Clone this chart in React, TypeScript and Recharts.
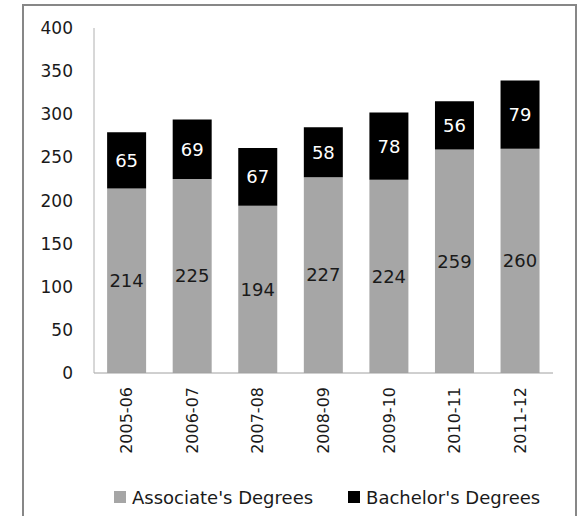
import { Bar, BarChart, LabelList, Legend, XAxis, YAxis } from "recharts";

const YEARS = ["2005-06", "2006-07", "2007-08", "2008-09", "2009-10", "2010-11", "2011-12"];
const ASSOCIATE = [214, 225, 194, 227, 224, 259, 260];
const BACHELOR = [65, 69, 67, 58, 78, 56, 79];
const Y_TICKS = [0, 50, 100, 150, 200, 250, 300, 350, 400];

const COLOR_ASSOC = "#a6a6a6";
const COLOR_BACH = "#000000";
const FONT = "'DejaVu Sans', sans-serif";
const TEXT = "#1a1a1a";

const data = YEARS.map((year, i) => ({
  year,
  associate: ASSOCIATE[i],
  bachelor: BACHELOR[i],
}));

function YearTick({ x, y, payload }: any) {
  return (
    <g transform={`translate(${x},${y + 14})`}>
      <text
        transform="rotate(-90)"
        textAnchor="end"
        dominantBaseline="central"
        fontSize={16}
        fontFamily={FONT}
        fill={TEXT}
      >
        {payload.value}
      </text>
    </g>
  );
}

function DegreesLegend({ payload }: any) {
  return (
    <div
      style={{
        display: "flex",
        alignItems: "center",
        height: 26,
        paddingLeft: 114,
        fontFamily: FONT,
        fontSize: 18,
        color: TEXT,
      }}
    >
      {(payload || []).map((entry: any, i: number) => (
        <div
          key={entry.value}
          style={{ display: "flex", alignItems: "center", marginRight: i === 0 ? 35 : 0 }}
        >
          <span
            style={{
              display: "inline-block",
              width: 12,
              height: 12,
              background: entry.color,
              marginRight: 6,
            }}
          />
          <span>{entry.value}</span>
        </div>
      ))}
    </div>
  );
}

export default function App() {
  return (
    <div
      style={{
        position: "absolute",
        left: 0,
        top: 0,
        width: 584,
        height: 516,
        overflow: "hidden",
        background: "#fff",
      }}
    >
      <div
        style={{
          position: "absolute",
          left: 22,
          top: 4,
          width: 551,
          height: 600,
          border: "2px solid #878787",
        }}
      />
      <div style={{ position: "absolute", left: 0, top: 0 }}>
        <BarChart
          width={584}
          height={516}
          data={data}
          barCategoryGap="20%"
          margin={{ top: 28, right: 31, left: 34, bottom: 6 }}
        >
          <XAxis
            dataKey="year"
            height={111}
            tick={<YearTick />}
            tickLine={false}
            tickSize={0}
            tickMargin={0}
            interval={0}
            axisLine={{ stroke: "#a0a0a0" }}
          />
          <YAxis
            domain={[0, 400]}
            ticks={Y_TICKS}
            width={60}
            tickLine={false}
            tickSize={0}
            tickMargin={21}
            axisLine={{ stroke: "#b0b0b0" }}
            tick={{ fontSize: 17, fontFamily: FONT, fill: TEXT }}
          />
          <Legend
            verticalAlign="bottom"
            content={<DegreesLegend />}
            wrapperStyle={{ left: 0, width: 584 }}
          />
          <Bar
            dataKey="associate"
            name="Associate's Degrees"
            stackId="deg"
            fill={COLOR_ASSOC}
            isAnimationActive={false}
          >
            <LabelList
              dataKey="associate"
              position="center"
              fill={TEXT}
              fontSize={18}
              fontFamily={FONT}
            />
          </Bar>
          <Bar
            dataKey="bachelor"
            name="Bachelor's Degrees"
            stackId="deg"
            fill={COLOR_BACH}
            isAnimationActive={false}
          >
            <LabelList
              dataKey="bachelor"
              position="center"
              fill="#ffffff"
              fontSize={18}
              fontFamily={FONT}
            />
          </Bar>
        </BarChart>
      </div>
    </div>
  );
}
